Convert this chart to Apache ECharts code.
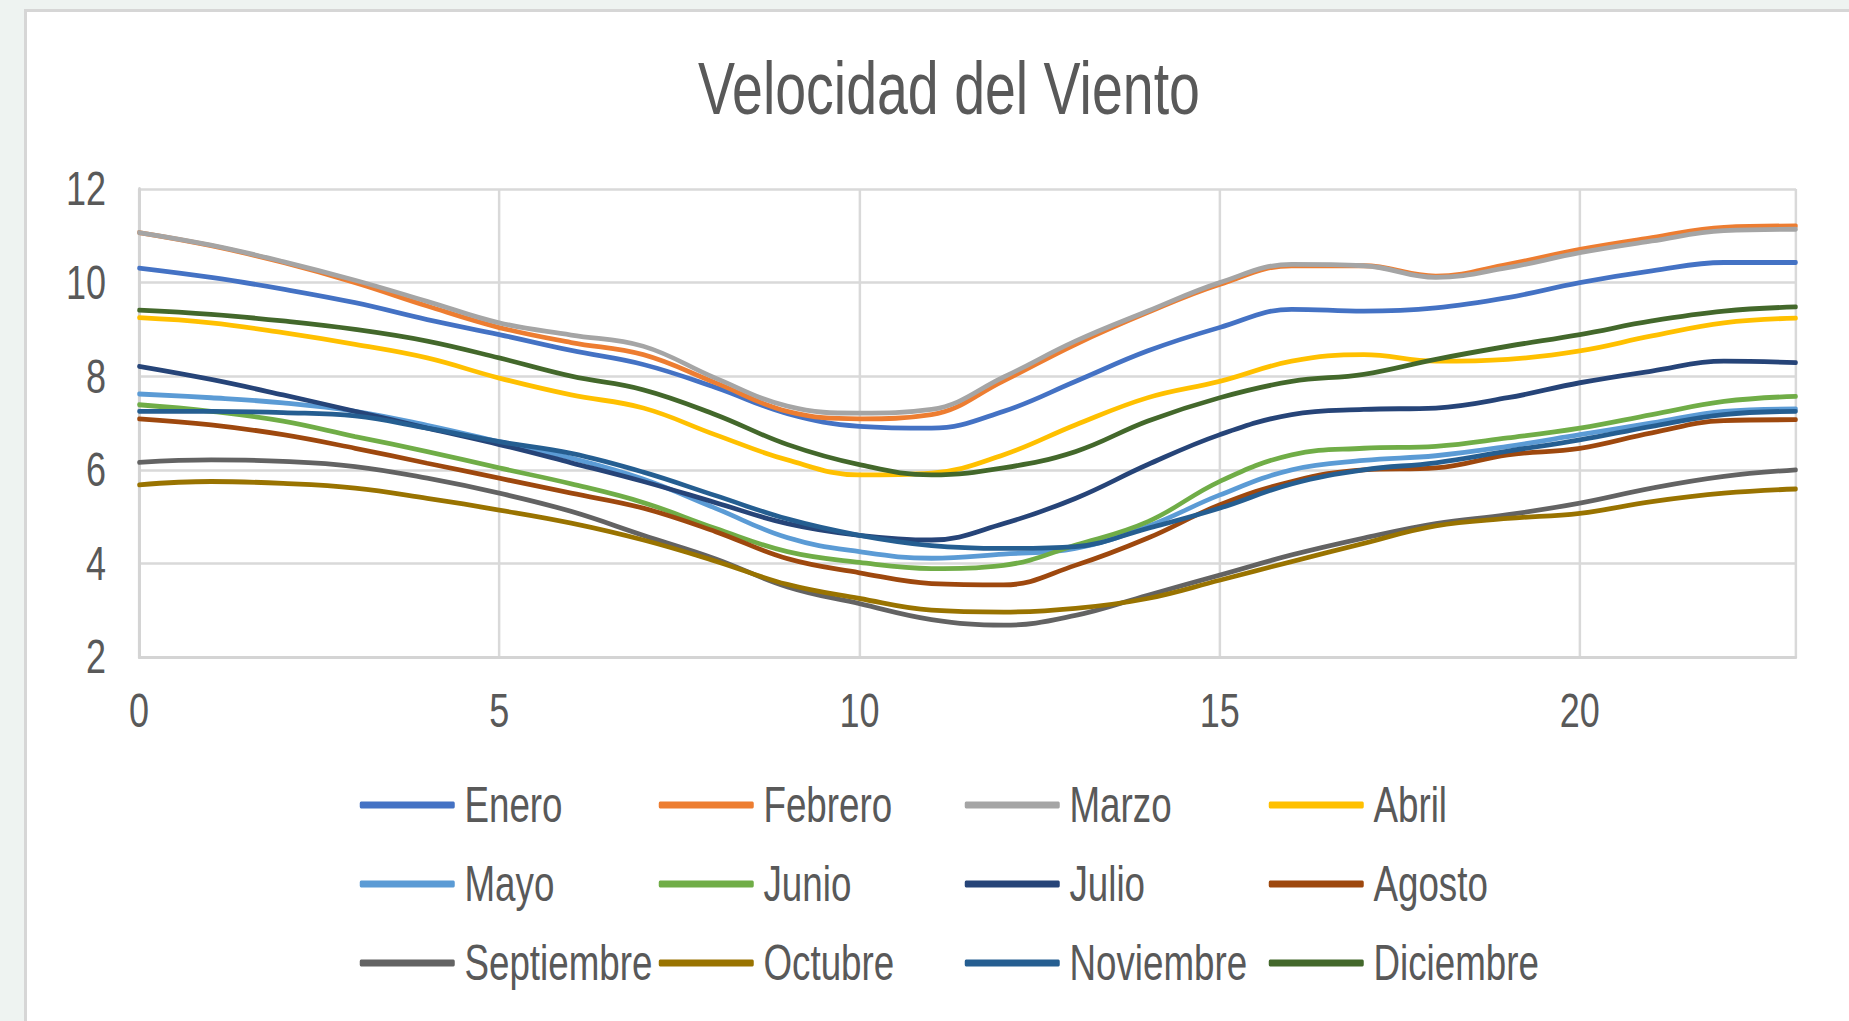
<!DOCTYPE html>
<html>
<head>
<meta charset="utf-8">
<script src="https://cdn.jsdelivr.net/npm/echarts@6/dist/echarts.min.js"></script>
<style>
html,body{margin:0;padding:0;width:1849px;height:1021px;overflow:hidden;background:#eef3f1;}
#card{position:absolute;left:24px;top:9px;width:1900px;height:1100px;background:#ffffff;border-left:3px solid #d6d6d6;border-top:3px solid #d6d6d6;}
#chart{position:absolute;left:0;top:0;width:2466px;height:1021px;transform:scaleX(0.75);transform-origin:0 0;}
</style>
</head>
<body>
<div id="card"></div>
<div id="chart"></div>
<script>
const hours = [0,1,2,3,4,5,6,7,8,9,10,11,12,13,14,15,16,17,18,19,20,21,22,23];
const xTicks = [0,5,10,15,20];
const yTicks = [2,4,6,8,10,12];
const months = ["Enero","Febrero","Marzo","Abril","Mayo","Junio","Julio","Agosto","Septiembre","Octubre","Noviembre","Diciembre"];

const enero      = [10.31,10.11,9.86,9.57,9.21,8.89,8.55,8.25,7.76,7.2,6.93,6.89,7.25,7.89,8.54,9.04,9.43,9.39,9.46,9.68,10.0,10.25,10.43,10.43];
const febrero    = [11.07,10.79,10.43,10.0,9.5,9.04,8.72,8.46,7.86,7.25,7.09,7.18,7.9,8.68,9.36,9.96,10.36,10.36,10.14,10.39,10.71,10.96,11.18,11.21];
const marzo      = [11.07,10.8,10.45,10.05,9.6,9.14,8.88,8.64,7.96,7.36,7.21,7.29,7.98,8.75,9.39,10.0,10.39,10.36,10.11,10.32,10.64,10.89,11.11,11.14];
const abril      = [9.25,9.14,8.93,8.68,8.39,7.96,7.6,7.32,6.75,6.21,5.89,5.93,6.32,6.96,7.54,7.89,8.32,8.46,8.32,8.36,8.54,8.86,9.14,9.24];
const mayo       = [7.62,7.54,7.43,7.25,6.95,6.6,6.25,5.8,5.18,4.55,4.25,4.11,4.2,4.32,4.79,5.46,6.0,6.2,6.3,6.5,6.75,7.0,7.25,7.3];
const junio      = [7.39,7.25,7.04,6.71,6.39,6.04,5.7,5.3,4.75,4.25,4.02,3.89,3.96,4.39,4.89,5.75,6.32,6.46,6.5,6.68,6.89,7.18,7.46,7.57];
const julio      = [8.21,7.93,7.6,7.25,6.89,6.54,6.15,5.75,5.3,4.85,4.6,4.5,4.85,5.39,6.11,6.75,7.18,7.29,7.32,7.54,7.86,8.11,8.32,8.29];
const agosto     = [7.09,6.96,6.75,6.46,6.14,5.82,5.5,5.18,4.68,4.1,3.8,3.57,3.54,3.96,4.54,5.25,5.75,6.0,6.04,6.32,6.46,6.79,7.05,7.07];
const septiembre = [6.16,6.21,6.18,6.07,5.82,5.5,5.11,4.6,4.1,3.5,3.14,2.8,2.68,2.89,3.32,3.75,4.18,4.54,4.85,5.04,5.29,5.61,5.86,6.0];
const octubre    = [5.68,5.75,5.71,5.61,5.39,5.14,4.86,4.5,4.05,3.55,3.25,3.0,2.96,3.04,3.25,3.64,4.04,4.43,4.8,4.96,5.07,5.32,5.5,5.59];
const noviembre  = [7.25,7.25,7.22,7.15,6.89,6.6,6.35,5.95,5.45,4.95,4.6,4.38,4.32,4.36,4.75,5.18,5.7,6.0,6.15,6.4,6.64,6.93,7.18,7.25];
const diciembre  = [9.41,9.32,9.18,9.0,8.75,8.39,8.0,7.71,7.18,6.54,6.11,5.89,6.04,6.39,7.04,7.54,7.89,8.04,8.36,8.64,8.89,9.18,9.39,9.48];

const seriesValues = [enero,febrero,marzo,abril,mayo,junio,julio,agosto,septiembre,octubre,noviembre,diciembre];
const colors = ["#4472C4","#ED7D31","#A5A5A5","#FFC000","#5B9BD5","#70AD47","#264478","#9E480E","#636363","#997300","#255E91","#43682B"];

// The chart is drawn 1/0.75 wider and squeezed horizontally by CSS to reproduce the narrow typeface.
const SX = 0.75;
const FONT = "'Liberation Sans',Arial,sans-serif";
const chart = echarts.init(document.getElementById('chart'), null, {renderer:'svg'});

const series = months.map((m,i)=>({
  name:m, type:'line', smooth:0.4, symbol:'none', showSymbol:false,
  data: hours.map((h,j)=>[h, seriesValues[i][j]]),
  lineStyle:{width:4.8, color:colors[i], cap:'round'},
  itemStyle:{color:colors[i]},
  emphasis:{disabled:true}
}));

const colLefts = [356,655,961,1265];
const legends = colLefts.map((left,c)=>({
  orient:'vertical', left:left/SX, top:773,
  data:[months[c], months[c+4], months[c+8]],
  icon:'roundRect',
  itemWidth:95/SX, itemHeight:7, itemGap:25,
  textStyle:{fontFamily:FONT, fontSize:49, color:'#595959', lineHeight:54, padding:[0,0,0,8]},
  selectedMode:false
}));

chart.setOption({
  animation:false,
  backgroundColor:'transparent',
  color:colors,
  graphic:[{type:'text', x:949/SX, y:89, silent:true,
    style:{text:'Velocidad del Viento', fontFamily:FONT, fontSize:74, fill:'#595959', align:'center', verticalAlign:'middle'}}],
  legend:legends,
  grid:{left:139/SX, right:2466-1796/SX, top:189, bottom:364, containLabel:false},
  xAxis:{type:'value', min:0, max:23, interval:5,
    axisLine:{show:true, lineStyle:{color:'#d4d4d4', width:3}},
    axisTick:{show:false},
    splitLine:{show:true, lineStyle:{color:'#d9d9d9', width:3.3}},
    axisLabel:{fontFamily:FONT, fontSize:48, color:'#595959', margin:30,
      formatter:v=> xTicks.includes(v)? String(v):''}},
  yAxis:{type:'value', min:2, max:12, interval:2,
    axisLine:{show:true, lineStyle:{color:'#d4d4d4', width:4}},
    axisTick:{show:false},
    splitLine:{show:true, lineStyle:{color:'#d9d9d9', width:2.5}},
    axisLabel:{fontFamily:FONT, fontSize:48, color:'#595959', margin:44,
      formatter:v=> yTicks.includes(v)? String(v):''}},
  series:series
});
</script>
</body>
</html>
